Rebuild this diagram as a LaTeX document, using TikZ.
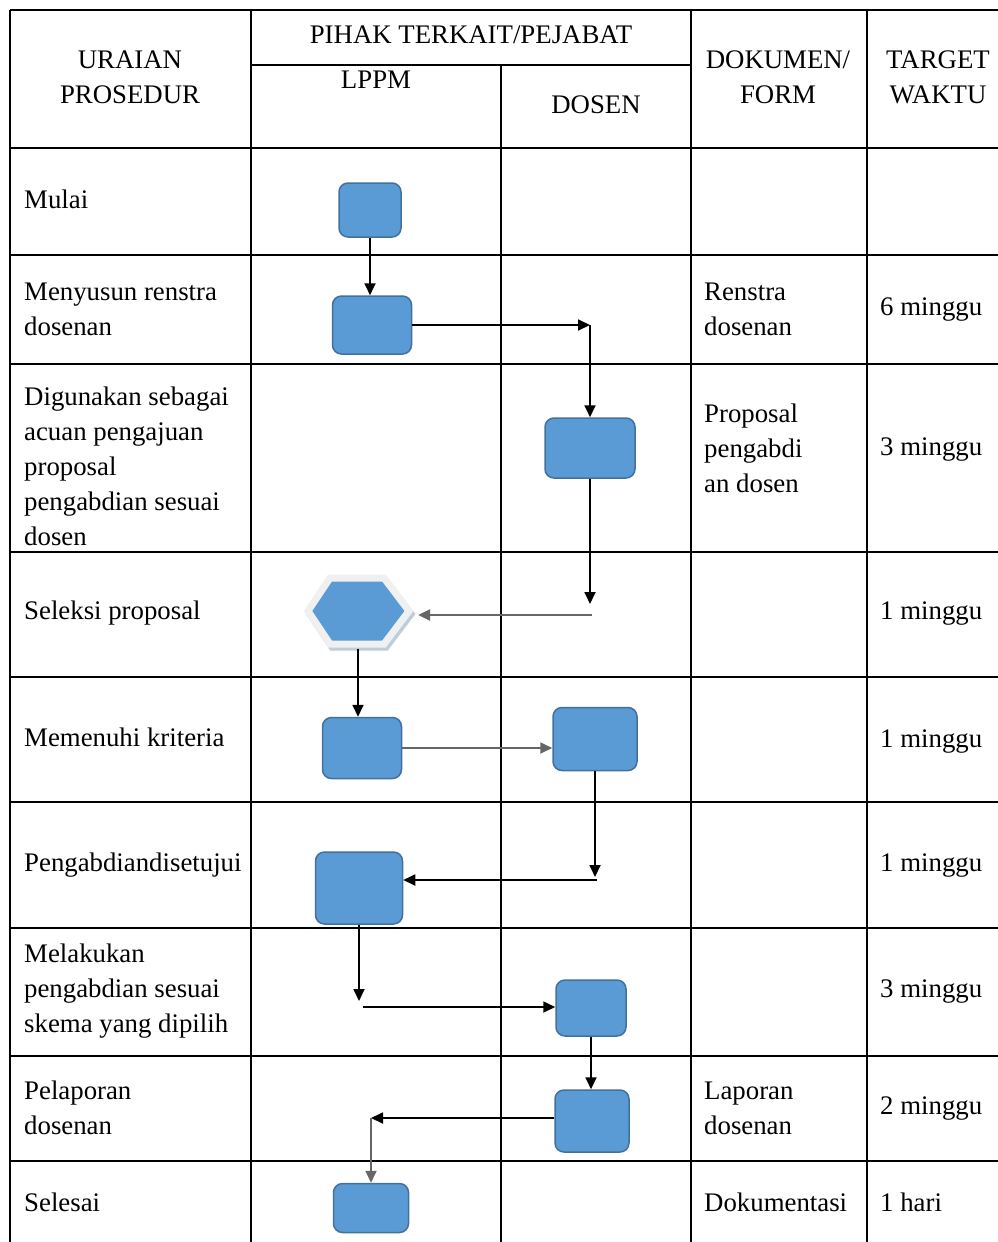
\documentclass[tikz,border=0pt]{standalone}
\usepackage{fontspec}
\setmainfont{Liberation Serif}
\usetikzlibrary{arrows.meta}
\definecolor{biru}{RGB}{91,155,213}
\definecolor{birutua}{RGB}{65,113,156}

\begin{document}
\begin{tikzpicture}[x=1pt, y=-1pt, font=\fontsize{26.8}{35}\selectfont]
\tikzstyle{garis}=[line width=2.2pt]
\tikzstyle{isi}=[inner sep=0pt, align=left, anchor=west]
\tikzstyle{isisatu}=[isi, text height=18pt, text depth=6pt]
\tikzstyle{judul}=[inner sep=0pt, align=center]
\tikzstyle{kotak}=[draw=birutua, fill=biru, line width=1.5pt, rounded corners=9pt, inner sep=0pt]
\tikzstyle{panah}=[-{Triangle[length=12pt, width=11pt]}, line width=1.8pt]
\tikzstyle{abu}=[draw=black!60]
\useasboundingbox (0,0) rectangle (998,1242);
% tabel
\draw[garis] (10,10) -- (998,10);
\foreach \y in {148,255,364,552,677,802,928,1056,1161} \draw[garis] (10,\y) -- (998,\y);
\foreach \x in {10,251,691,867} \draw[garis] (\x,10) -- (\x,1242);
\draw[garis] (251,65) -- (691,65);
\draw[garis] (501,65) -- (501,1242);
% kepala tabel
\node[judul] (hUraian) at (130,77) {URAIAN\\PROSEDUR};
\node[judul] (hPihak) at (471,35) {PIHAK TERKAIT/PEJABAT};
\node[judul] (hLppm) at (376,80) {LPPM};
\node[judul] (hDosen) at (596,105) {DOSEN};
\node[judul] (hDok) at (778,77) {DOKUMEN/\\FORM};
\node[judul] (hWaktu) at (938,77) {TARGET\\WAKTU};
% uraian prosedur
\node[isisatu] (u1) at (24,202) {Mulai};
\node[isi] (u2) at (24,309) {Menyusun renstra\\dosenan};
\node[isi] (u3) at (24,466) {Digunakan sebagai\\acuan pengajuan\\proposal\\pengabdian sesuai\\dosen};
\node[isisatu] (u4) at (24,613) {Seleksi proposal};
\node[isisatu] (u5) at (24,740) {Memenuhi kriteria};
\node[isisatu] (u6) at (24,865) {Pengabdiandisetujui};
\node[isi] (u7) at (24,991) {Melakukan\\pengabdian sesuai\\skema yang dipilih};
\node[isi] (u8) at (24,1108) {Pelaporan\\dosenan};
\node[isisatu] (u9) at (24,1205) {Selesai};
% dokumen
\node[isi] (d2) at (704,309) {Renstra\\dosenan};
\node[isi] (d3) at (704,448) {Proposal\\pengabdi\\an dosen};
\node[isi] (d8) at (704,1108) {Laporan\\dosenan};
\node[isisatu] (d9) at (704,1205) {Dokumentasi};
% waktu
\node[isisatu] (w2) at (880,309) {6 minggu};
\node[isisatu] (w3) at (880,449) {3 minggu};
\node[isisatu] (w4) at (880,613) {1 minggu};
\node[isisatu] (w5) at (880,741) {1 minggu};
\node[isisatu] (w6) at (880,865) {1 minggu};
\node[isisatu] (w7) at (880,991) {3 minggu};
\node[isisatu] (w8) at (880,1108) {2 minggu};
\node[isisatu] (w9) at (880,1205) {1 hari};
% bagan alir
\node[kotak, minimum width=62pt, minimum height=54pt] (mulai) at (370,210) {};
\node[kotak, minimum width=79pt, minimum height=58pt] (renstra) at (372,325) {};
\node[kotak, minimum width=90pt, minimum height=60pt] (proposal) at (590,448) {};
\draw[birutua!35, line width=7pt] (310,614) -- (332,581) -- (386,581) -- (411,614) -- (386,647) -- (332,647) -- cycle;
\draw[gray!12, line width=7pt, fill=biru] (308,611) -- (330,578) -- (384,578) -- (409,611) -- (384,644) -- (330,644) -- cycle;
\node[minimum width=120pt, minimum height=75pt, inner sep=0pt] (seleksi) at (358,611) {};
\node[kotak, minimum width=79pt, minimum height=61pt] (kriteria) at (362,748) {};
\node[kotak, minimum width=84pt, minimum height=63pt] (terima) at (595,739) {};
\node[kotak, minimum width=87pt, minimum height=72pt] (setuju) at (359,888) {};
\node[kotak, minimum width=70pt, minimum height=56pt] (lakukan) at (591,1008) {};
\node[kotak, minimum width=74pt, minimum height=62pt] (lapor) at (592,1121) {};
\node[kotak, minimum width=75pt, minimum height=49pt] (selesai) at (371,1208) {};
% penghubung
\coordinate (b1) at (renstra.east -| proposal.north);
\coordinate (b2) at (592,604); \coordinate (b3) at (592,615);
\coordinate (b4) at (597,877); \coordinate (b5) at (597,880);
\coordinate (b6) at (359,1001); \coordinate (b7) at (363,1007);
\coordinate (b8) at (371,1118);
\draw[panah] (mulai.south) -- (mulai.south |- renstra.north);
\draw[panah] (renstra.east) -- (b1);
\draw[panah] (b1) -- (proposal.north);
\draw[panah] (proposal.south) -- (proposal.south |- b2);
\draw[panah, abu, line width=2.4pt] (b3) -- (b3 -| seleksi.east);
\draw[panah] (seleksi.south) -- (seleksi.south |- kriteria.north);
\draw[panah, abu] (kriteria.east) -- (kriteria.east -| terima.west);
\draw[panah] (terima.south) -- (terima.south |- b4);
\draw[panah] (b5) -- (b5 -| setuju.east);
\draw[panah] (setuju.south) -- (b6);
\draw[panah] (b7) -- (b7 -| lakukan.west);
\draw[panah] (lakukan.south) -- (lakukan.south |- lapor.north);
\draw[panah] (lapor.west |- b8) -- (b8);
\draw[panah, abu] (b8) -- (b8 |- selesai.north);
\end{tikzpicture}
\end{document}
